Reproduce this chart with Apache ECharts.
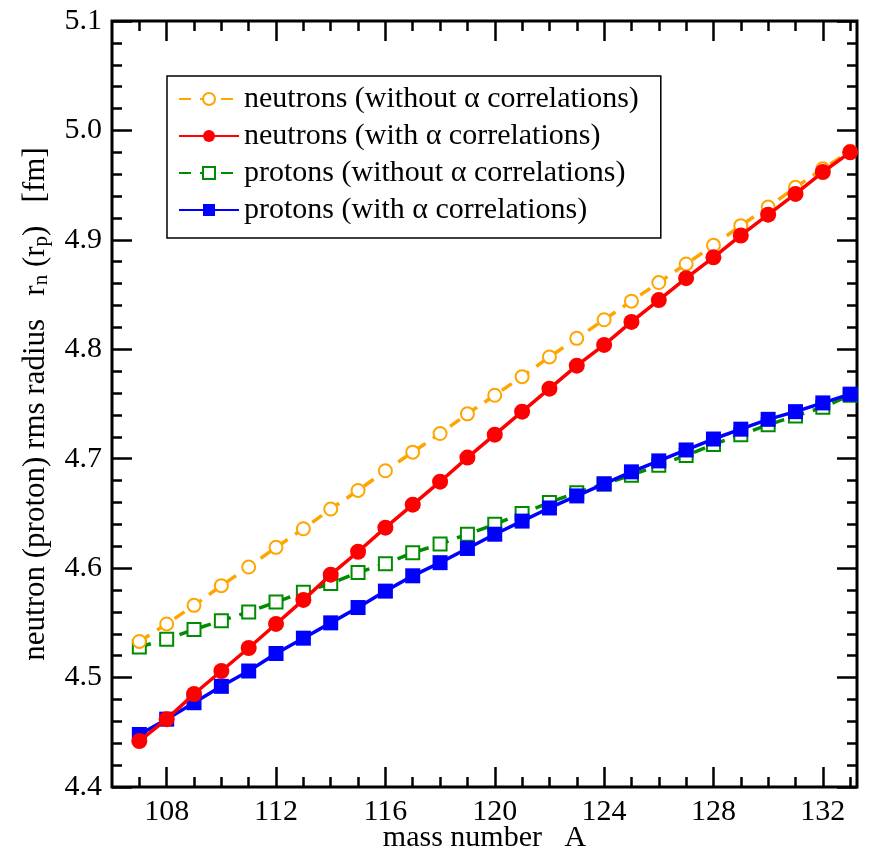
<!DOCTYPE html>
<html>
<head>
    <meta charset='utf-8'>
    <script src="https://cdn.jsdelivr.net/npm/echarts@6/dist/echarts.min.js"></script>
</head>
<body>
<style>
    html, body, #main {
        width: 100%;
        height: 100%;
        margin: 0;
        padding: 0;
        background: #fff;
    }
</style>
<div id="main"></div>
<script>

    var massNumbers = [107, 108, 109, 110, 111, 112, 113, 114, 115, 116, 117, 118, 119, 120,
        121, 122, 123, 124, 125, 126, 127, 128, 129, 130, 131, 132, 133];

    var neutronsNoAlpha = [4.533, 4.549, 4.566, 4.584, 4.601, 4.619, 4.636, 4.654, 4.671, 4.689,
        4.706, 4.723, 4.741, 4.758, 4.775, 4.793, 4.810, 4.827, 4.844, 4.861, 4.878, 4.895,
        4.913, 4.930, 4.948, 4.965, 4.981];
    var neutronsAlpha = [4.442, 4.462, 4.485, 4.506, 4.527, 4.549, 4.571, 4.594, 4.615, 4.637,
        4.658, 4.679, 4.701, 4.722, 4.743, 4.764, 4.785, 4.804, 4.825, 4.845, 4.865, 4.884,
        4.904, 4.923, 4.942, 4.962, 4.980];
    var protonsNoAlpha = [4.528, 4.535, 4.544, 4.552, 4.560, 4.569, 4.578, 4.586, 4.596, 4.604,
        4.614, 4.622, 4.631, 4.640, 4.650, 4.660, 4.669, 4.677, 4.685, 4.694, 4.703, 4.713,
        4.722, 4.731, 4.739, 4.747, 4.758];
    var protonsAlpha = [4.448, 4.462, 4.477, 4.492, 4.506, 4.522, 4.536, 4.550, 4.564, 4.579,
        4.593, 4.605, 4.618, 4.631, 4.643, 4.655, 4.666, 4.677, 4.688, 4.698, 4.708, 4.718,
        4.727, 4.736, 4.743, 4.751, 4.759];

    var xMajorTicks = [108, 112, 116, 120, 124, 128, 132];
    var xMinorTicks = [107, 109, 110, 111, 113, 114, 115, 117, 118, 119, 121, 122, 123,
        125, 126, 127, 129, 130, 131, 133];

    var seriesNames = [
        'neutrons (without \u03b1 correlations)',
        'neutrons (with \u03b1 correlations)',
        'protons (without \u03b1 correlations)',
        'protons (with \u03b1 correlations)'
    ];

    var font = 'Liberation Serif';

    function pairs(ys) {
        return massNumbers.map(function (a, i) {
            return [a, ys[i]];
        });
    }

    var chart = echarts.init(document.getElementById('main'));

    var xBase = {
        type: 'value',
        min: 106,
        max: 133.25,
        gridIndex: 0,
        splitLine: {show: false},
        axisLine: {show: false}
    };

    function xAxisOf(position, ticks, len, labels) {
        return Object.assign({}, xBase, {
            position: position,
            axisTick: {
                show: true,
                inside: true,
                length: len,
                customValues: ticks,
                lineStyle: {color: '#000', width: 2.5}
            },
            axisLabel: labels ? {
                show: true,
                customValues: ticks,
                margin: 10,
                color: '#000',
                fontFamily: font,
                fontSize: 30
            } : {show: false}
        });
    }

    var xAxes = [
        xAxisOf('bottom', xMajorTicks, 20, true),
        xAxisOf('bottom', xMinorTicks, 10, false),
        xAxisOf('top', xMajorTicks, 20, false),
        xAxisOf('top', xMinorTicks, 10, false)
    ];
    xAxes[0].name = 'mass number   A';
    xAxes[0].nameLocation = 'middle';
    xAxes[0].nameGap = 36;
    xAxes[0].nameMoveOverlap = false;
    xAxes[0].nameTextStyle = {color: '#000', fontFamily: font, fontSize: 30};

    function yAxisOf(position, labels) {
        return {
            type: 'value',
            position: position,
            min: 4.4,
            max: 5.1,
            interval: 0.1,
            splitLine: {show: false},
            axisLine: {show: false},
            axisTick: {
                show: true,
                inside: true,
                length: 20,
                lineStyle: {color: '#000', width: 2.5}
            },
            minorTick: {
                show: true,
                splitNumber: 5,
                length: 10,
                lineStyle: {color: '#000', width: 2.5}
            },
            axisLabel: labels ? {
                show: true,
                margin: 10,
                color: '#000',
                fontFamily: font,
                fontSize: 30,
                formatter: function (v) {
                    return v.toFixed(1);
                }
            } : {show: false}
        };
    }

    var yAxes = [yAxisOf('left', true), yAxisOf('right', false)];
    yAxes[0].name = 'neutron (proton) rms radius   r{sub|n} (r{sub|p})   [fm]';
    yAxes[0].nameLocation = 'middle';
    yAxes[0].nameGap = 60;
    yAxes[0].nameRotate = 90;
    yAxes[0].nameMoveOverlap = false;
    yAxes[0].nameTextStyle = {
        color: '#000',
        fontFamily: font,
        fontSize: 31,
        rich: {
            sub: {
                color: '#000',
                fontFamily: font,
                fontSize: 21,
                padding: [12, 0, 0, 0]
            }
        }
    };

    var styles = [
        {color: '#ffa500', symbol: 'emptyCircle', size: 13, dash: [12, 9]},
        {color: '#ff0000', symbol: 'circle', size: 16, dash: 'solid'},
        {color: '#008c00', symbol: 'emptyRect', size: 13, dash: [12, 9]},
        {color: '#0000ff', symbol: 'rect', size: 15, dash: 'solid'}
    ];
    var values = [neutronsNoAlpha, neutronsAlpha, protonsNoAlpha, protonsAlpha];

    var series = [];
    for (var i = 0; i < values.length; i++) {
        series.push({
            name: seriesNames[i],
            type: 'line',
            xAxisIndex: 0,
            yAxisIndex: 0,
            data: pairs(values[i]),
            symbol: styles[i].symbol,
            symbolSize: styles[i].size,
            color: styles[i].color,
            lineStyle: {width: 3.5, type: styles[i].dash, color: styles[i].color},
            itemStyle: {color: styles[i].color, borderWidth: 3},
            animation: false,
            z: 10 - i
        });
    }
    // red and blue drawn above dashed curves
    series[1].z = 12;
    series[3].z = 11;

    chart.setOption({
        animation: false,
        grid: {
            left: 112,
            right: 17,
            top: 21,
            bottom: 69,
            show: true,
            borderColor: '#000',
            borderWidth: 3,
            containLabel: false,
            outerBoundsMode: 'none'
        },
        legend: {
            orient: 'vertical',
            left: 167,
            top: 76,
            padding: [8, 22, 13, 11],
            itemGap: 7,
            itemWidth: 60,
            itemHeight: 15,
            borderColor: '#000',
            borderWidth: 1.5,
            backgroundColor: '#fff',
            textStyle: {color: '#000', fontFamily: font, fontSize: 30},
            data: seriesNames
        },
        xAxis: xAxes,
        yAxis: yAxes,
        series: series
    });

</script>
</body>
</html>
